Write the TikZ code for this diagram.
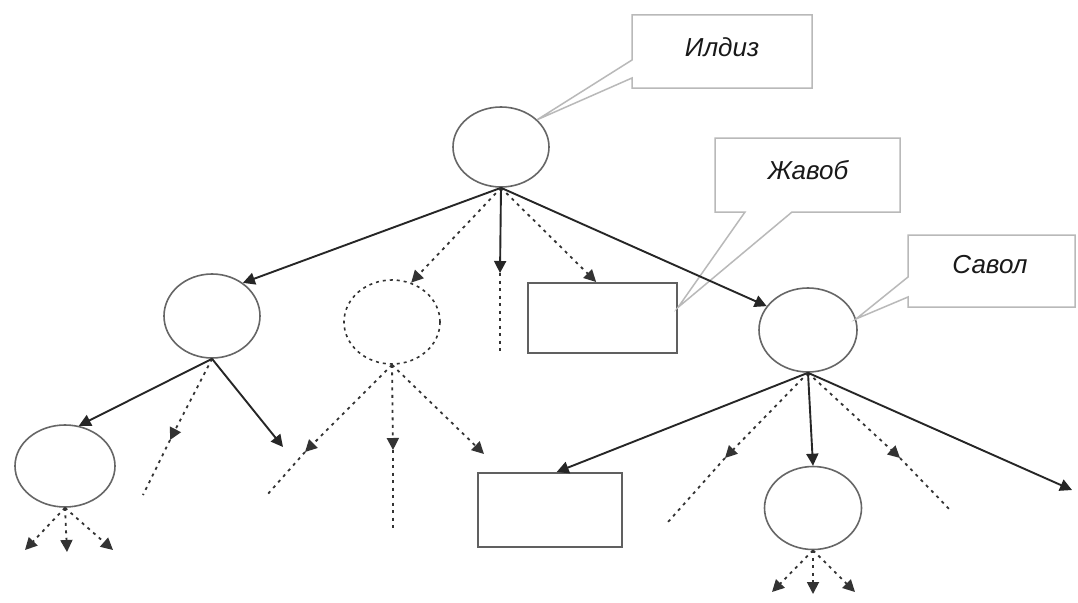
\documentclass[tikz,border=0pt]{standalone}
\usepackage{fontspec}
\setmainfont{Liberation Sans}
\usetikzlibrary{arrows.meta,shapes.geometric}
\begin{document}
\begin{tikzpicture}[x=1pt,y=-1pt,
  circ/.style={ellipse, draw=gray!80!black, line width=1.6pt, inner sep=0pt},
  dcirc/.style={circ, dash pattern=on 3pt off 4pt, draw=black!80},
  rbox/.style={rectangle, draw=gray!75!black, line width=2pt, inner sep=0pt},
  sol/.style={line width=1.9pt, draw=black!85},
  dsh/.style={line width=1.8pt, draw=black!80, dash pattern=on 3pt off 4.5pt},
  arr/.style={-{Triangle[length=12pt,width=12pt]}},
  cshape/.style={draw=gray!55, line width=1.5pt, line join=miter},
  lab/.style={font=\fontsize{26}{28}\selectfont\itshape, text=black!90}
]
\useasboundingbox[fill=white] (0,0) rectangle (1078,602);

% nodes
\node[circ, minimum width=96pt, minimum height=80pt] (root) at (501,147) {};
\node[circ, minimum width=96pt, minimum height=84pt] (lA) at (212,316) {};
\node[dcirc, minimum width=96pt, minimum height=84pt] (dA) at (392,322) {};
\node[rbox, minimum width=149pt, minimum height=70pt] (rA) at (602.5,318) {};
\node[circ, minimum width=98pt, minimum height=84pt] (cA) at (808,330) {};
\node[circ, minimum width=100pt, minimum height=82pt] (lB) at (65,466) {};
\node[rbox, minimum width=144pt, minimum height=74pt] (rB) at (550,510) {};
\node[circ, minimum width=97pt, minimum height=83pt] (cB) at (813,508) {};

% callouts
\draw[cshape] (632,60) -- (632,15) -- (812,15) -- (812,88) -- (632,88) -- (632,78) -- (root.37) -- cycle;
\draw[cshape] (745,212) -- (715,212) -- (715,138) -- (900,138) -- (900,212) -- (792,212) -- (rA.8) -- cycle;
\draw[cshape] (908,277) -- (908,235) -- (1075,235) -- (1075,307) -- (908,307) -- (908,297) -- (cA.13) -- cycle;
\node[lab] (tRoot) at (722,47) {Илдиз};
\node[lab] (tAns) at (808,170) {Жавоб};
\node[lab] (tQ) at (990,265) {Савол};

% free ends
\coordinate (m1) at (500,273); \coordinate (e1) at (500,355);
\coordinate (m2) at (170,440); \coordinate (e2) at (143,495);
\coordinate (e3) at (283,447);
\coordinate (m4) at (305,452); \coordinate (e4) at (267,495);
\coordinate (m5) at (393,450); \coordinate (e5) at (393,530);
\coordinate (e6) at (484,454);
\coordinate (m7) at (725,458); \coordinate (e7) at (668,522);
\coordinate (m8) at (900,458); \coordinate (e8) at (952,512);
\coordinate (e9) at (1072,490);
\coordinate (b1) at (25,550); \coordinate (b2) at (67,552); \coordinate (b3) at (113,550);
\coordinate (b4) at (772,592); \coordinate (b5) at (813,594); \coordinate (b6) at (855,592);

% root children
\draw[sol,arr] (root.south) -- (lA.47);
\draw[dsh,arr] (root.south) -- (dA.64);
\draw[sol,arr] (root.south) -- (m1);
\draw[dsh] (m1) -- (e1);
\draw[dsh,arr] (root.south) -- (rA.100);
\draw[sol,arr] (root.south) -- (cA.150);

% left circle children
\draw[sol,arr] (lA.south) -- (lB.71);
\draw[dsh,arr] (lA.south) -- (m2);
\draw[dsh] (m2) -- (e2);
\draw[sol,arr] (lA.south) -- (e3);

% dashed circle children
\draw[dsh,arr] (dA.south) -- (m4);
\draw[dsh] (m4) -- (e4);
\draw[dsh,arr] (dA.south) -- (m5);
\draw[dsh] (m5) -- (e5);
\draw[dsh,arr] (dA.south) -- (e6);

% right circle children
\draw[sol,arr] (cA.south) -- (rB.80);
\draw[dsh,arr] (cA.south) -- (m7);
\draw[dsh] (m7) -- (e7);
\draw[sol,arr] (cA.south) -- (cB.north);
\draw[dsh,arr] (cA.south) -- (m8);
\draw[dsh] (m8) -- (e8);
\draw[sol,arr] (cA.south) -- (e9);

% bottom small arrows
\draw[dsh,arr] (lB.south) -- (b1);
\draw[dsh,arr] (lB.south) -- (b2);
\draw[dsh,arr] (lB.south) -- (b3);
\draw[dsh,arr] (cB.south) -- (b4);
\draw[dsh,arr] (cB.south) -- (b5);
\draw[dsh,arr] (cB.south) -- (b6);
\end{tikzpicture}
\end{document}
